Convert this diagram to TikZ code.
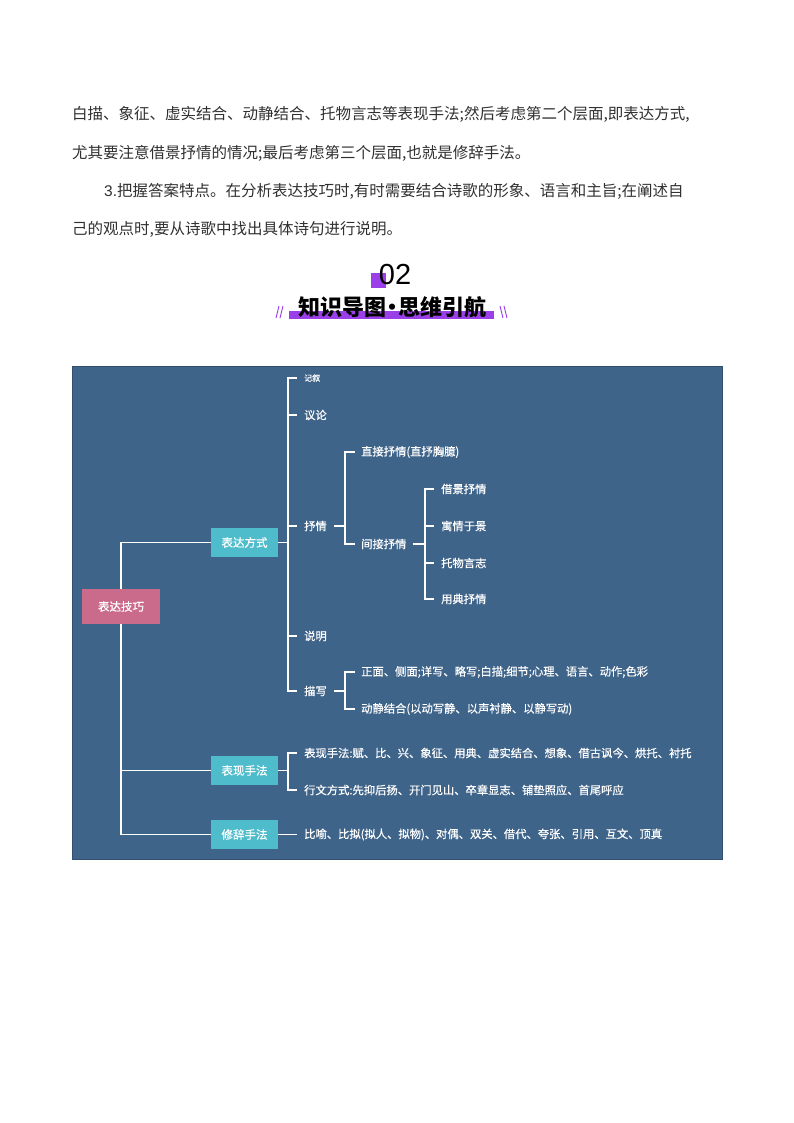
\documentclass[tikz,border=0pt]{standalone}
\usepackage{fontspec}
\usepackage{xcolor}
\setmainfont{Noto Sans CJK SC}
\newfontfamily\numfont{Liberation Sans}
\newfontfamily\labelfont[FakeBold=0.5]{Noto Sans CJK SC}
\definecolor{panelColor}{HTML}{3F6489}
\definecolor{rootColor}{HTML}{CB6B8C}
\definecolor{boxColor}{HTML}{4FBCCB}
\definecolor{markColor}{HTML}{9B3FE8}
\definecolor{bodyColor}{HTML}{303030}
\tikzset{
    bodyline/.style={anchor=west, inner sep=0pt, text=bodyColor, font=\fontsize{15.5}{18}\selectfont},
    rootbox/.style={fill=rootColor, text=white, minimum width=78pt, minimum height=35pt, inner sep=0pt, font=\labelfont\fontsize{11.5}{14}\selectfont},
    groupbox/.style={fill=boxColor, text=white, minimum width=67pt, minimum height=29pt, inner sep=0pt, font=\labelfont\fontsize{11.5}{14}\selectfont},
    leaf/.style={anchor=west, text=white, inner xsep=7pt, inner ysep=1pt, font=\labelfont\fontsize{11.3}{14}\selectfont},
    branch/.style={draw=white, line width=1.3pt},
    markline/.style={draw=markColor, line width=0.9pt}
}

\begin{document}
\begin{tikzpicture}[x=1pt, y=-1pt]
    \useasboundingbox (0,0) rectangle (794,1123);

    % running text
    \node[bodyline] (lineA) at (72,114) {白描、象征、虚实结合、动静结合、托物言志等表现手法;然后考虑第二个层面,即表达方式,};
    \node[bodyline] (lineB) at (72,153) {尤其要注意借景抒情的情况;最后考虑第三个层面,也就是修辞手法。};
    \node[bodyline] (lineC) at (104,191) {{\numfont 3.}把握答案特点。在分析表达技巧时,有时需要结合诗歌的形象、语言和主旨;在阐述自};
    \node[bodyline] (lineD) at (72,229) {己的观点时,要从诗歌中找出具体诗句进行说明。};

    % heading
    \fill[markColor] (371,273) rectangle (386,288);
    \node[text=black, inner sep=0pt, font=\numfont\fontsize{29}{30}\selectfont] (number) at (395,275) {02};
    \fill[markColor] (289,311) rectangle (494,319);
    \node[text=black, inner sep=0pt, font=\bfseries\fontsize{22}{24}\selectfont] (heading) at (392,307) {知识导图\kern-5pt·\kern-5pt思维引航};
    \draw[markline] (279,306) -- (276,318);
    \draw[markline] (283,306) -- (280,318);
    \draw[markline] (500,306) -- (503,318);
    \draw[markline] (504,306) -- (507,318);

    % panel
    \filldraw[fill=panelColor, draw=panelColor!80!black, line width=0.6pt] (72,366) rectangle (722,859);

    \node[rootbox] (root) at (121,606.5) {表达技巧};
    \node[groupbox] (fangshi) at (244.5,542.5) {表达方式};
    \node[groupbox] (shoufa) at (244.5,770.5) {表现手法};
    \node[groupbox] (xiuci) at (244.5,834.5) {修辞手法};

    \node[leaf, font=\labelfont\fontsize{8}{10}\selectfont] (jixu) at (297,378) {记叙};
    \node[leaf] (yilun) at (297,415) {议论};
    \node[leaf] (shuqing) at (297,526) {抒情};
    \node[leaf] (shuoming) at (297,636) {说明};
    \node[leaf] (miaoxie) at (297,691) {描写};

    \node[leaf, inner xsep=6pt] (zhijie) at (355,452) {直接抒情(直抒胸臆)};
    \node[leaf, inner xsep=6pt] (jianjie) at (355,544) {间接抒情};
    \node[leaf] (jiejing) at (434,489) {借景抒情};
    \node[leaf] (yuqing) at (434,526) {寓情于景};
    \node[leaf] (tuowu) at (434,563) {托物言志};
    \node[leaf] (yongdian) at (434,599) {用典抒情};

    \node[leaf, inner xsep=6pt] (zhengmian) at (355,672) {正面、侧面;详写、略写;白描;细节;心理、语言、动作;色彩};
    \node[leaf, inner xsep=6pt] (dongjing) at (355,709) {动静结合(以动写静、以声衬静、以静写动)};

    \node[leaf] (biaoxian) at (297,753) {表现手法:赋、比、兴、象征、用典、虚实结合、想象、借古讽今、烘托、衬托};
    \node[leaf] (xingwen) at (297,790) {行文方式:先抑后扬、开门见山、卒章显志、铺垫照应、首尾呼应};
    \node[leaf] (cige) at (297,834.5) {比喻、比拟(拟人、拟物)、对偶、双关、借代、夸张、引用、互文、顶真};

    \coordinate (fangshiSpine) at (288,542.5);
    \coordinate (shoufaSpine) at (288,770.5);
    \coordinate (shuqingSpine) at (345,526);
    \coordinate (jianjieSpine) at (425,544);
    \coordinate (miaoxieSpine) at (345,691);

    % connectors
    \draw[branch] (root.north) |- (fangshi.west);
    \foreach \child in {shoufa,xiuci}
        \draw[branch] (root.south) |- (\child.west);
    \foreach \child in {jixu,yilun,shuqing,shuoming,miaoxie}
        \draw[branch] (fangshiSpine) |- (\child.west);
    \foreach \child in {zhijie,jianjie}
        \draw[branch] (shuqingSpine) |- (\child.west);
    \foreach \child in {jiejing,yuqing,tuowu,yongdian}
        \draw[branch] (jianjieSpine) |- (\child.west);
    \foreach \child in {zhengmian,dongjing}
        \draw[branch] (miaoxieSpine) |- (\child.west);
    \foreach \child in {biaoxian,xingwen}
        \draw[branch] (shoufaSpine) |- (\child.west);
    \draw[branch] (fangshi.east) -- (fangshiSpine);
    \draw[branch] (shoufa.east) -- (shoufaSpine);
    \draw[branch] (xiuci.east) -- (cige.west);
    \draw[branch] (shuqing.east) -- (shuqingSpine);
    \draw[branch] (jianjie.east) -- (jianjieSpine);
    \draw[branch] (miaoxie.east) -- (miaoxieSpine);
\end{tikzpicture}
\end{document}
